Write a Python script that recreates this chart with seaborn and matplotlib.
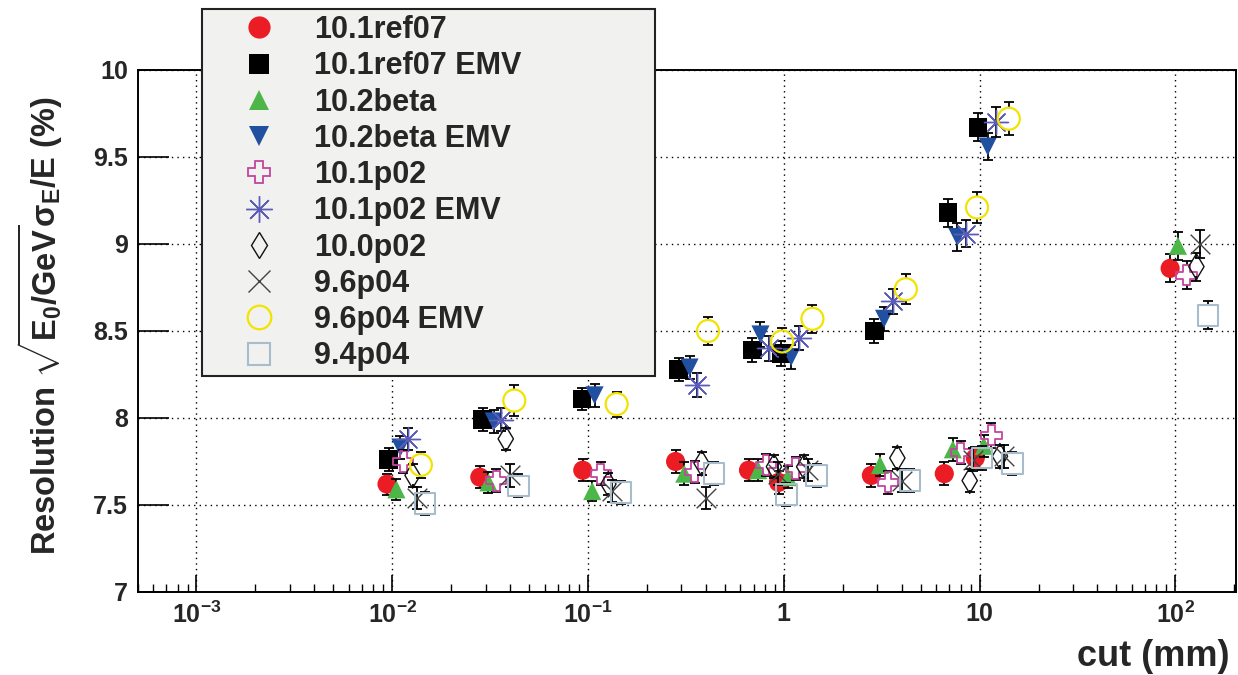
import matplotlib
matplotlib.use("Agg")
import matplotlib.pyplot as plt
from matplotlib.lines import Line2D
from matplotlib.patches import Rectangle
from matplotlib.ticker import FixedLocator, FixedFormatter, LogLocator, NullLocator
import numpy as np
import pandas as pd
import seaborn as sns

# ---- data ----
labels = ["10.1ref07", "10.1ref07 EMV", "10.2beta", "10.2beta EMV", "10.1p02",
          "10.1p02 EMV", "10.0p02", "9.6p04", "9.6p04 EMV", "9.4p04"]

ref07_x = [0.0094, 0.028, 0.094, 0.28, 0.66, 0.94, 2.8, 6.6, 9.5, 94]
ref07_y = [7.62, 7.66, 7.70, 7.75, 7.70, 7.63, 7.67, 7.68, 7.77, 8.86]
ref07_err = [0.06, 0.065, 0.065, 0.065, 0.065, 0.065, 0.065, 0.065, 0.065, 0.08]

ref07emv_x = [0.0096, 0.029, 0.093, 0.29, 0.69, 0.97, 2.9, 6.9, 9.8]
ref07emv_y = [7.76, 7.99, 8.11, 8.28, 8.39, 8.37, 8.50, 9.18, 9.67]
ref07emv_err = [0.065, 0.065, 0.065, 0.065, 0.07, 0.07, 0.07, 0.08, 0.08]

beta_x = [0.0105, 0.031, 0.105, 0.31, 0.74, 1.05, 3.1, 7.3, 10.5, 103]
beta_y = [7.59, 7.63, 7.58, 7.68, 7.70, 7.66, 7.73, 7.82, 7.84, 8.99]
beta_err = [0.06, 0.06, 0.06, 0.065, 0.065, 0.065, 0.065, 0.065, 0.065, 0.08]

betaemv_x = [0.011, 0.033, 0.108, 0.33, 0.76, 1.09, 3.25, 7.7, 11.0]
betaemv_y = [7.83, 7.98, 8.13, 8.29, 8.48, 8.35, 8.57, 9.04, 9.56]
betaemv_err = [0.065, 0.065, 0.065, 0.065, 0.07, 0.07, 0.07, 0.08, 0.08]

p02_x = [0.0114, 0.034, 0.116, 0.35, 0.81, 1.15, 3.4, 8.0, 11.5, 114]
p02_y = [7.75, 7.64, 7.68, 7.69, 7.73, 7.71, 7.63, 7.80, 7.90, 8.82]
p02_err = [0.065, 0.065, 0.065, 0.065, 0.065, 0.065, 0.065, 0.065, 0.07, 0.08]

p02emv_x = [0.012, 0.036, 0.36, 0.84, 1.2, 3.6, 8.5, 12.1]
p02emv_y = [7.88, 7.99, 8.19, 8.40, 8.46, 8.67, 9.06, 9.70]
p02emv_err = [0.065, 0.065, 0.07, 0.07, 0.07, 0.07, 0.08, 0.085]

v100p02_x = [0.0127, 0.038, 0.127, 0.38, 0.89, 1.27, 3.8, 8.9, 12.7, 128]
v100p02_y = [7.67, 7.88, 7.62, 7.74, 7.72, 7.72, 7.77, 7.64, 7.78, 8.87]
v100p02_err = [0.065, 0.065, 0.065, 0.065, 0.065, 0.065, 0.065, 0.065, 0.065, 0.08]

p04_x = [0.0133, 0.040, 0.133, 0.40, 0.93, 1.33, 4.0, 9.3, 13.3, 133]
p04_y = [7.54, 7.67, 7.58, 7.54, 7.68, 7.70, 7.64, 7.76, 7.78, 9.00]
p04_err = [0.065, 0.065, 0.065, 0.065, 0.065, 0.065, 0.065, 0.065, 0.065, 0.08]

p04emv_x = [0.014, 0.042, 0.14, 0.41, 0.98, 1.4, 4.2, 9.7, 14.1]
p04emv_y = [7.73, 8.10, 8.08, 8.50, 8.44, 8.57, 8.74, 9.21, 9.72]
p04emv_err = [0.077, 0.088, 0.072, 0.08, 0.08, 0.08, 0.085, 0.09, 0.095]

p94_x = [0.0147, 0.044, 0.147, 0.44, 1.03, 1.47, 4.4, 10.3, 14.7, 147]
p94_y = [7.51, 7.61, 7.57, 7.68, 7.56, 7.67, 7.64, 7.77, 7.74, 8.59]
p94_err = [0.067, 0.067, 0.067, 0.067, 0.067, 0.067, 0.067, 0.067, 0.067, 0.08]

xticks = [1e-3, 1e-2, 1e-1, 1, 10, 100]
xticklabels = [r"$10^{-3}$", r"$10^{-2}$", r"$10^{-1}$", "1", "10", r"$10^{2}$"]
yticks = [7, 7.5, 8, 8.5, 9, 9.5, 10]
yticklabels = ["7", "7.5", "8", "8.5", "9", "9.5", "10"]

series = [
    (ref07_x, ref07_y, ref07_err),
    (ref07emv_x, ref07emv_y, ref07emv_err),
    (beta_x, beta_y, beta_err),
    (betaemv_x, betaemv_y, betaemv_err),
    (p02_x, p02_y, p02_err),
    (p02emv_x, p02emv_y, p02emv_err),
    (v100p02_x, v100p02_y, v100p02_err),
    (p04_x, p04_y, p04_err),
    (p04emv_x, p04emv_y, p04emv_err),
    (p94_x, p94_y, p94_err),
]

# marker, colour, filled, size (pt^2), line width, legend marker size
styles = [
    ("o", "#ec1c24", True, 190, 0, 16),
    ("s", "#000000", True, 180, 0, 15),
    ("^", "#4cb748", True, 170, 0, 15),
    ("v", "#2150a0", True, 170, 0, 15),
    ("P", "#c4449f", False, 210, 1.3, 16),
    ((8, 2, 0), "#5b5bb8", None, 300, 1.0, 19),
    ("d", "#111111", False, 170, 1.0, 13),
    ("x", "#444444", None, 200, 1.0, 16),
    ("o", "#f2e300", False, 250, 1.6, 17),
    ("s", "#a8bccb", False, 220, 1.5, 16),
]

sns.set_theme(style="ticks")
plt.rcParams["font.family"] = ["Liberation Sans", "DejaVu Sans"]
plt.rcParams["font.weight"] = "bold"
plt.rcParams["mathtext.fontset"] = "custom"
plt.rcParams["mathtext.rm"] = "Liberation Sans:bold"
plt.rcParams["mathtext.it"] = "Liberation Sans:bold"
plt.rcParams["mathtext.bf"] = "Liberation Sans:bold"
plt.rcParams["mathtext.sf"] = "Liberation Sans:bold"
plt.rcParams["mathtext.default"] = "rm"

fig = plt.figure(figsize=(12.38, 6.75), dpi=100)
fig.patch.set_facecolor("white")
ax = fig.add_axes([0.1111, 0.1230, 0.8873, 0.7733])
ax.set_facecolor("white")
ax.set_xscale("log")
ax.set_xlim(5.0e-4, 2.04e2)
ax.set_ylim(7, 10)

# pixels per y unit, so the bar stems of open markers can stop at the marker edge
px_per_unit = fig.get_figheight() * fig.dpi * 0.7733 / 3.0
cap_kw = dict(linestyle="none", marker="_", markersize=7.5, markeredgewidth=1.3,
              color="black")

for i, ((xs, ys, es), (mk, col, filled, size, lw, _)) in enumerate(zip(series, styles)):
    df = pd.DataFrame({"cut": xs, "res": ys})
    y = np.array(ys)
    e = np.array(es)
    if filled is False:
        gap = np.sqrt(size) / 2 * fig.dpi / 72 / px_per_unit
        ax.vlines(xs, y + gap, np.maximum(y + e, y + gap), color="black",
                  linewidth=1.3, zorder=3 + 2 * i)
        ax.vlines(xs, np.minimum(y - e, y - gap), y - gap, color="black",
                  linewidth=1.3, zorder=3 + 2 * i)
        ax.plot(xs, y + e, zorder=3 + 2 * i, **cap_kw)
        ax.plot(xs, y - e, zorder=3 + 2 * i, **cap_kw)
    else:
        ax.errorbar(xs, ys, yerr=es, fmt="none", ecolor="black", elinewidth=1.3,
                    capsize=3.75, capthick=1.3, zorder=3 + 2 * i)
    if filled is True:
        sns.scatterplot(data=df, x="cut", y="res", marker=mk, color=col, s=size,
                        linewidth=0, edgecolor="none", ax=ax, zorder=4 + 2 * i)
    elif filled is False:
        sns.scatterplot(data=df, x="cut", y="res", marker=mk, s=size,
                        facecolor="none", edgecolor=col, linewidth=lw,
                        ax=ax, zorder=4 + 2 * i)
    else:
        sns.scatterplot(data=df, x="cut", y="res", marker=mk, color=col, s=size,
                        edgecolor=None, linewidth=lw, ax=ax, zorder=4 + 2 * i)

ax.set_xlim(5.0e-4, 2.04e2)
ax.set_ylim(7, 10)
ax.xaxis.set_major_locator(FixedLocator(xticks))
ax.xaxis.set_major_formatter(FixedFormatter(xticklabels))
ax.xaxis.set_minor_locator(LogLocator(base=10, subs=[2, 3, 4, 5, 6, 7, 8, 9], numticks=20))
ax.yaxis.set_major_locator(FixedLocator(yticks))
ax.yaxis.set_major_formatter(FixedFormatter(yticklabels))
ax.yaxis.set_minor_locator(NullLocator())

ax.grid(True, which="major", color="black", linestyle=(0, (1, 3)), linewidth=1.0)
ax.tick_params(axis="both", which="both", direction="in", top=False, right=False,
               color="black", labelsize=18)
ax.tick_params(axis="x", which="major", length=12, width=1.2, pad=7)
ax.tick_params(axis="x", which="minor", length=6, width=1.0)
ax.tick_params(axis="y", which="major", length=22, width=1.2, pad=7)
for lab in ax.get_xticklabels() + ax.get_yticklabels():
    lab.set_fontweight("bold")
for sp in ax.spines.values():
    sp.set_visible(True)
    sp.set_linewidth(1.4)
    sp.set_color("black")

ax.set_xlabel("cut (mm)", fontsize=26, fontweight="bold", ha="right", va="top")
ax.xaxis.set_label_coords(0.9945, -0.090)
ax.set_ylabel(r"Resolution $\sqrt{E_0/GeV}\sigma_E/E$ (%)", fontsize=23.5,
              fontweight="bold", va="center")
ax.yaxis.set_label_coords(-0.089, 0.51)

# legend box in the ROOT style
box = Rectangle((202 / 1238, 1 - 376 / 675), (655 - 202) / 1238, (376 - 9) / 675,
                transform=fig.transFigure, facecolor="#f1f2f0", edgecolor="#222222",
                linewidth=1.5, zorder=4)
fig.add_artist(box)

handles = []
for mk, col, filled, size, lw, ms in styles:
    if filled is True:
        h = Line2D([], [], linestyle="none", marker=mk, markersize=ms,
                   markerfacecolor=col, markeredgecolor=col, markeredgewidth=0)
    elif filled is False:
        h = Line2D([], [], linestyle="none", marker=mk, markersize=ms,
                   markerfacecolor="none", markeredgecolor=col, markeredgewidth=lw)
    else:
        h = Line2D([], [], linestyle="none", marker=mk, markersize=ms,
                   color=col, markeredgewidth=lw)
    handles.append(h)

leg = fig.legend(handles, labels, loc="upper left",
                 bbox_to_anchor=(238 / 1238, 1 - 15 / 675),
                 bbox_transform=fig.transFigure, frameon=False,
                 prop={"family": "Liberation Sans", "weight": "bold", "size": 22},
                 handlelength=1.35, handletextpad=1.15, labelspacing=0.205,
                 borderpad=0, borderaxespad=0)
leg.set_zorder(5)

fig.savefig("out.png", dpi=100)
